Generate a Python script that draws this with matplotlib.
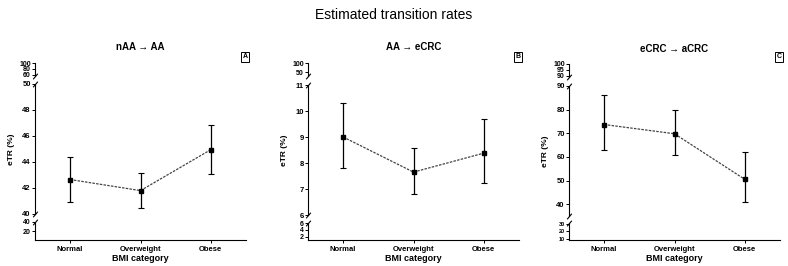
import matplotlib.pyplot as plt

plt.rcParams['font.family'] = ['Liberation Sans', 'DejaVu Sans']

# Data
categories = ["Normal", "Overweight", "Obese"]

a_est = [42.65, 41.8, 44.95]
a_lo = [40.95, 40.5, 43.1]
a_hi = [44.4, 43.15, 46.85]

b_est = [9.0, 7.65, 8.38]
b_lo = [7.8, 6.82, 7.23]
b_hi = [10.3, 8.58, 9.68]

c_est = [73.7, 69.8, 50.5]
c_lo = [62.8, 60.7, 40.9]
c_hi = [86.0, 80.0, 61.9]

titles = ["nAA \u2192 AA", "AA \u2192 eCRC", "eCRC \u2192 aCRC"]
letters = ["A", "B", "C"]

# y-axis segments (top, main, bottom) for each panel
top_ticks = [[60, 80, 100], [50, 100], [90, 95, 100]]
main_ticks = [[40, 42, 44, 46, 48, 50], [6, 7, 8, 9, 10, 11], [40, 50, 60, 70, 80, 90]]
bot_ticks = [[20, 40], [2, 4, 6], [10, 20, 30]]
top_lims = [(55, 100), (30, 100), (89, 100)]
main_lims = [(40, 50), (6, 11), (35, 90)]
bot_lims = [(0, 40), (1, 6), (8, 31)]

W, H = 788, 266


def box(l, r, top, bot):
    return [l / W, 1 - bot / H, (r - l) / W, (bot - top) / H]


def style(ax, ticks, lims, size=5.5):
    ax.set_ylim(*lims)
    ax.set_yticks(ticks)
    ax.set_xlim(-0.5, 2.5)
    for s in ["top", "right"]:
        ax.spines[s].set_visible(False)
    ax.spines["left"].set_linewidth(0.8)
    ax.spines["bottom"].set_linewidth(0.8)
    ax.tick_params(axis="y", labelsize=size, length=2, width=0.7, pad=1)
    for t in ax.get_yticklabels():
        t.set_fontweight("bold")
    ax.patch.set_alpha(0)


def brk(ax, where):
    # little slanted marks at the broken ends of the y spine
    ax.plot([0], [where], transform=ax.transAxes, marker=[(-1, -1.2), (1, 1.2)],
            markersize=4, color="black", mew=0.8, clip_on=False)


fig = plt.figure(figsize=(W / 100, H / 100), dpi=100)
fig.text(0.5, 1 - 15 / H, "Estimated transition rates", ha="center", va="center", fontsize=10)

lefts = [35, 308, 569]
ests = [a_est, b_est, c_est]
los = [a_lo, b_lo, c_lo]
his = [a_hi, b_hi, c_hi]
segs = [[(63, 76), (84, 214), (222, 240)],
        [(63, 76), (85, 215), (223, 240)],
        [(64, 77), (86, 216), (223, 240)]]

for i in range(3):
    l = lefts[i]
    r = l + 211
    (t0, t1), (m0, m1), (b0, b1) = segs[i]
    ax_t = fig.add_axes(box(l, r, t0, t1))
    ax_m = fig.add_axes(box(l, r, m0, m1))
    ax_b = fig.add_axes(box(l, r, b0, b1))

    style(ax_t, top_ticks[i], top_lims[i], 5)
    style(ax_m, main_ticks[i], main_lims[i])
    style(ax_b, bot_ticks[i], bot_lims[i], 5 if i < 2 else 4)
    for ax in (ax_t, ax_m):
        ax.spines["bottom"].set_visible(False)
        ax.set_xticks([])
    brk(ax_t, 0)
    brk(ax_m, 1)
    brk(ax_m, 0)
    brk(ax_b, 1)

    x = list(range(len(categories)))
    ax_b.set_xticks(x)
    ax_b.set_xticklabels(categories, fontsize=5.5, fontweight="bold")
    ax_b.tick_params(axis="x", length=2, width=0.7, pad=2)
    ax_b.set_xlabel("BMI category", fontsize=6.5, fontweight="bold", labelpad=1)

    err = [[e - lo for e, lo in zip(ests[i], los[i])],
           [hi - e for e, hi in zip(ests[i], his[i])]]
    ax_m.plot(x, ests[i], linestyle=(0, (2, 1)), color="#444444", lw=0.9)
    ax_m.errorbar(x, ests[i], yerr=err, fmt="s", color="black", ms=3,
                  elinewidth=0.9, capsize=2, capthick=0.8)

    ax_m.set_ylabel("eTR (%)", fontsize=6, fontweight="bold", labelpad=5)
    ax_t.set_title(titles[i], fontsize=7, fontweight="bold", pad=9)

    fig.text((l + 210) / W, 1 - 57 / H, letters[i], ha="center", va="center",
             fontsize=5, fontweight="bold",
             bbox=dict(boxstyle="square,pad=0.25", fc="white", ec="black", lw=0.7))

fig.savefig("out.png", dpi=100)
